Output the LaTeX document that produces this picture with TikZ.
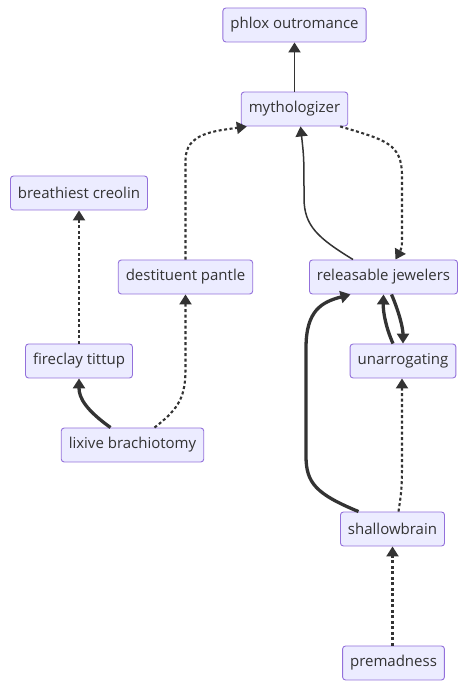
\documentclass[tikz,border=0pt]{standalone}
\usepackage{fontspec}
\setmainfont{Open Sans}
\usepackage{tikz}
\usetikzlibrary{arrows.meta}
\definecolor{boxfill}{HTML}{ECECFF}
\definecolor{boxline}{HTML}{9370DB}
\definecolor{edgegray}{HTML}{333333}

\begin{document}
\begin{tikzpicture}[x=1pt, y=1pt, font=\fontsize{15}{17}\selectfont,
    b/.style={draw=boxline, line width=0.9pt, rounded corners=3pt, fill=boxfill, text=edgegray, minimum height=34pt, inner xsep=7.5pt},
    arr/.style={-{Triangle[length=10pt, width=12pt]}, line width=1.9pt, edgegray},
    thk/.style={arr, line width=3.3pt},
    dot/.style={arr, line width=2.1pt, dash pattern=on 3pt off 2.5pt}]
    \useasboundingbox (0,0) rectangle (469,688);
    \node[b] (phlox) at (294.5,663) {phlox outromance};
    \node[b] (myth) at (294.5,579) {mythologizer};
    \node[b] (creolin) at (79,495) {breathiest creolin};
    \node[b] (pantle) at (185.5,411) {destituent pantle};
    \node[b] (jewel) at (383.5,411) {releasable jewelers};
    \node[b] (tittup) at (79,327) {fireclay tittup};
    \node[b] (unarr) at (403,327) {unarrogating};
    \node[b] (lixive) at (132.5,243) {lixive brachiotomy};
    \node[b] (shallow) at (392.5,159) {shallowbrain};
    \node[b] (premad) at (393.5,25) {premadness};
    % upper part
    \draw[arr] (myth) -- (phlox);
    \draw[dot] (pantle.north) -- (185.5,528) .. controls (185.5,555) and (215,557) .. ([xshift=6pt]myth.south west);
    \draw[arr, line width=1.5pt] ([xshift=44pt]jewel.north west) .. controls (318,450) and (304,462) .. (304,490) .. controls (304,530) .. ([xshift=6pt]myth.south);
    \draw[dot] ([xshift=-8pt]myth.south east) .. controls (385,548) and (402,545) .. (402,512) -- (402,455) .. controls (402,440) .. ([xshift=12pt]jewel.north);
    % left part
    \draw[dot] (tittup) -- (creolin);
    \draw[thk] ([xshift=-22pt]lixive.north) .. controls (86,278) and (79,290) .. (tittup.south);
    \draw[dot] ([xshift=22pt]lixive.north) .. controls (180,280) and (185.5,292) .. (185.5,320) -- (pantle.south);
    % right part
    \draw[thk] ([xshift=-10pt]unarr.north) .. controls (386,360) and (383,376) .. (jewel.south);
    \draw[thk] ([xshift=8pt]jewel.south) .. controls (399,376) and (403,360) .. (unarr.north);
    \draw[thk] ([xshift=-34pt]shallow.north) .. controls (316,194) and (306,205) .. (306,232) -- (306,340) .. controls (306,378) and (322,386) .. ([xshift=-33pt]jewel.south);
    \draw[dot] ([xshift=6pt]shallow.north) .. controls (402,200) .. (402,240) -- ([xshift=-1pt]unarr.south);
    \draw[dot] ([xshift=-1pt]premad.north) -- (shallow.south);
\end{tikzpicture}
\end{document}
